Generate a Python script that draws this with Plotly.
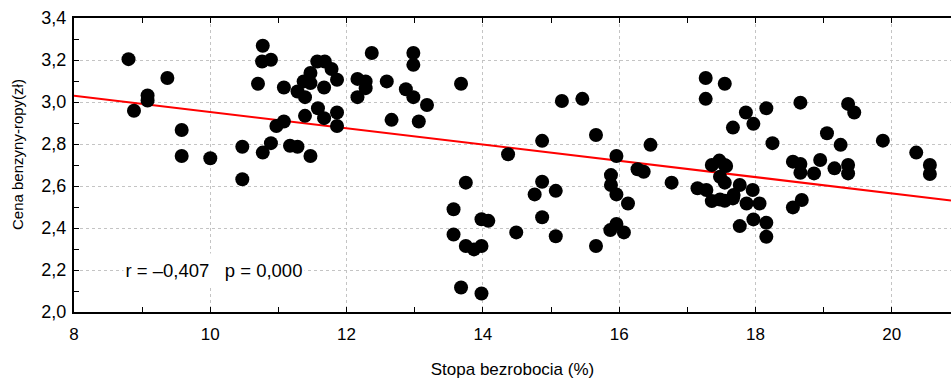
import plotly.graph_objects as go

# Stopa bezrobocia (%)
unemployment = [
    8.80, 8.88, 9.08, 9.08, 9.37, 9.58, 9.58, 10.00, 10.47, 10.47,
    10.70, 10.77, 10.76, 10.89, 10.77, 10.89, 10.97, 11.08, 11.08, 11.17,
    11.28, 11.28, 11.39, 11.39, 11.37, 11.47, 11.47, 11.47, 11.58, 11.57,
    11.68, 11.67, 11.67, 11.78, 11.86, 11.86, 11.86, 12.16, 12.16, 12.28,
    12.28, 12.37, 12.59, 12.66, 12.87, 12.98, 12.98, 12.98, 13.06, 13.18,
    13.68, 13.75, 13.57, 13.57, 13.75, 13.87, 13.98, 13.98, 14.08, 13.68,
    13.98, 14.37, 14.49, 14.76, 14.87, 14.87, 14.87, 15.07, 15.07, 15.16,
    15.46, 15.66, 15.66, 15.88, 15.88, 15.96, 15.96, 15.87, 15.96, 16.07,
    16.13, 16.27, 16.36, 16.46, 16.77, 17.15, 17.27, 17.27, 17.28, 17.36,
    17.36, 17.47, 17.48, 17.48, 17.55, 17.57, 17.55, 17.55, 17.55, 17.67,
    17.67, 17.68, 17.77, 17.77, 17.86, 17.87, 17.96, 17.97, 17.97, 18.06,
    18.16, 18.16, 18.16, 18.25, 18.55, 18.55, 18.66, 18.66, 18.66, 18.68,
    18.86, 18.95, 19.05, 19.16, 19.25, 19.36, 19.36, 19.36, 19.45, 19.87,
    20.36, 20.56, 20.56,
]
# Cena benzyny-ropy (zł)
price = [
    3.204, 2.958, 3.031, 3.007, 3.114, 2.867, 2.743, 2.732, 2.787, 2.632,
    3.087, 3.268, 3.193, 3.201, 2.759, 2.804, 2.886, 2.907, 3.069, 2.792,
    2.787, 3.050, 3.023, 2.934, 3.098, 3.138, 3.090, 2.743, 2.970, 3.193,
    3.193, 3.069, 2.923, 3.157, 3.106, 2.950, 2.886, 3.110, 3.023, 3.098,
    3.066, 3.233, 3.098, 2.915, 3.061, 3.023, 3.233, 3.177, 2.907, 2.986,
    3.087, 2.616, 2.489, 2.369, 2.314, 2.298, 2.314, 2.442, 2.434, 2.117,
    2.088, 2.751, 2.379, 2.560, 2.620, 2.451, 2.815, 2.577, 2.361, 3.005,
    3.015, 2.843, 2.314, 2.652, 2.605, 2.560, 2.743, 2.390, 2.419, 2.379,
    2.517, 2.680, 2.668, 2.796, 2.616, 2.589, 3.114, 3.015, 2.581, 2.700,
    2.528, 2.721, 2.644, 2.536, 2.616, 2.695, 3.087, 2.530, 2.700, 2.541,
    2.878, 2.557, 2.605, 2.409, 2.950, 2.517, 2.581, 2.896, 2.441, 2.517,
    2.970, 2.425, 2.358, 2.804, 2.716, 2.498, 2.997, 2.705, 2.663, 2.533,
    2.660, 2.724, 2.851, 2.684, 2.796, 2.991, 2.700, 2.660, 2.950, 2.816,
    2.759, 2.700, 2.657,
]

# regression line as drawn in the reference
fit_intercept = 3.339
fit_slope = -0.0387

x_ticks = [8, 10, 12, 14, 16, 18, 20]
x_labels = ["8", "10", "12", "14", "16", "18", "20"]
y_ticks = [2.0, 2.2, 2.4, 2.6, 2.8, 3.0, 3.2, 3.4]
y_labels = ["2,0", "2,2", "2,4", "2,6", "2,8", "3,0", "3,2", "3,4"]

x_range = [8, 20.87]
y_range = [2.0, 3.4]

stat_text = "r = \u20130,407\u00a0\u00a0\u00a0p = 0,000"
x_title = "Stopa bezrobocia (%)"
y_title = "Cena benzyny-ropy(zł)"

FONT = "Liberation Sans, Arial, sans-serif"

W, H = 951, 381
ML, MR, MT, MB = 74, 0, 18, 69

fit_x = list(x_range)
fit_y = [fit_intercept + fit_slope * v for v in fit_x]

fig = go.Figure()
fig.add_trace(go.Scatter(
    x=fit_x, y=fit_y, mode="lines",
    line=dict(color="#ff0000", width=2), hoverinfo="skip", showlegend=False,
))
fig.add_trace(go.Scatter(
    x=unemployment, y=price, mode="markers",
    marker=dict(color="black", size=14, line=dict(width=0)),
    showlegend=False,
))

fig.add_annotation(
    x=10.05, y=2.2, xref="x", yref="y", text=stat_text, showarrow=False,
    font=dict(family=FONT, size=18.5, color="black"),
    bgcolor="white", width=180, height=33, borderpad=0,
)
# y-axis title: centred at about 17 px from the left, slightly above plot centre
plot_w = W - ML - MR
fig.add_annotation(
    x=(17 - ML) / plot_w, xref="paper", xanchor="center",
    y=0.534, yref="paper", yanchor="middle",
    text=y_title, textangle=-90, showarrow=False,
    font=dict(family=FONT, size=15, color="black"),
)

grid = dict(showgrid=True, gridcolor="#c4c4c4", gridwidth=1, griddash="dot")
fig.update_xaxes(
    range=x_range, tickvals=x_ticks, ticktext=x_labels,
    ticks="inside", ticklen=5, tickwidth=1, tickcolor="black",
    minor=dict(dtick=1, tick0=8, ticks="inside", ticklen=5, tickcolor="black", showgrid=False),
    showline=True, linecolor="black", linewidth=2, mirror="ticks",
    zeroline=False, tickfont=dict(family=FONT, size=17, color="black"),
    ticklabelstandoff=6,
    title=dict(text=x_title, font=dict(family=FONT, size=17, color="black"), standoff=20),
    **grid,
)
fig.update_yaxes(
    range=y_range, tickvals=y_ticks, ticktext=y_labels,
    ticks="inside", ticklen=5, tickwidth=1, tickcolor="black",
    minor=dict(dtick=0.1, tick0=2.0, ticks="inside", ticklen=5, tickcolor="black", showgrid=False),
    showline=True, linecolor="black", linewidth=2, mirror=False,
    zeroline=False, tickfont=dict(family=FONT, size=18, color="black"),
    ticklabelstandoff=2,
    **grid,
)
fig.update_layout(
    width=W, height=H,
    margin=dict(l=ML, r=MR, t=MT, b=MB),
    plot_bgcolor="white", paper_bgcolor="white",
    font=dict(family=FONT, size=16, color="black"),
)
fig.write_html("out.html")
